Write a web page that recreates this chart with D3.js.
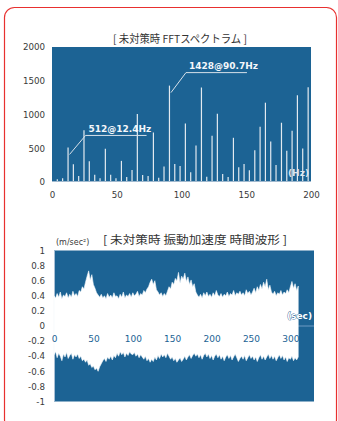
<!DOCTYPE html>
<html><head><meta charset="utf-8">
<script src="https://cdn.jsdelivr.net/npm/d3@7"></script>
<style>html,body{margin:0;padding:0;background:#fff;} svg{display:block;}</style>
</head><body>
<svg id="c" width="338" height="421"></svg>
<script>
// ---------- FFT spectrum data ----------
const fftFreqs = [4.1, 8.2, 12.4, 16.5, 20.6, 24.7, 28.8, 33.0, 37.1, 41.2, 45.3, 49.4,
  53.6, 57.7, 61.8, 65.9, 70.0, 74.2, 78.3, 82.4, 86.5, 90.7, 94.8, 98.9,
  103.0, 107.1, 111.2, 115.4, 119.5, 123.6, 127.7, 131.8, 136.0, 140.1, 144.2, 148.3,
  152.4, 156.6, 160.7, 164.8, 168.9, 173.0, 177.2, 181.3, 185.4, 189.5, 193.6, 197.8];
const fftValues = [40, 55, 512, 263, 90, 765, 308, 109, 55, 491, 109, 55,
  313, 74, 179, 1007, 104, 89, 735, 64, 228, 1428, 268, 238,
  868, 144, 541, 1400, 79, 685, 1010, 119, 74, 655, 218, 268,
  174, 471, 819, 1175, 600, 253, 878, 462, 759, 1285, 496, 1405];
const fftYTicks = [0, 500, 1000, 1500, 2000];
const fftXTicks = [0, 50, 100, 150, 200];
const peakFreqs = [12.4, 90.7];
const peakValues = [512, 1428];
const peakLabels = ["512@12.4Hz", "1428@90.7Hz"];
const fftTitle = "[ 未対策時 FFTスペクトラム ]";
const fftUnit = "(Hz)";

// ---------- Time waveform data (envelope every 2 s) ----------
const waveStep = 2;
const waveUpper = [
  0.40,0.37,0.43,0.38,0.45,0.36,0.41,0.39,0.44,0.37,
  0.42,0.38,0.46,0.40,0.43,0.39,0.47,0.45,0.52,0.49,
  0.58,0.66,0.73,0.61,0.68,0.55,0.50,0.44,0.41,0.38,
  0.42,0.37,0.40,0.36,0.43,0.38,0.41,0.37,0.44,0.39,
  0.40,0.36,0.42,0.38,0.45,0.37,0.41,0.39,0.43,0.38,
  0.44,0.40,0.42,0.46,0.39,0.43,0.41,0.47,0.44,0.49,
  0.52,0.58,0.62,0.55,0.60,0.48,0.45,0.41,0.44,0.39,
  0.43,0.40,0.46,0.52,0.49,0.58,0.55,0.63,0.60,0.71,
  0.57,0.66,0.62,0.70,0.59,0.65,0.55,0.61,0.52,0.56,
  0.45,0.41,0.38,0.42,0.37,0.44,0.40,0.45,0.39,0.42,
  0.38,0.44,0.40,0.47,0.41,0.39,0.43,0.38,0.42,0.40,
  0.45,0.39,0.43,0.41,0.47,0.40,0.44,0.42,0.46,0.41,
  0.44,0.40,0.48,0.43,0.46,0.41,0.45,0.50,0.44,0.52,
  0.47,0.55,0.49,0.58,0.52,0.62,0.48,0.54,0.45,0.42,
  0.46,0.40,0.44,0.42,0.47,0.41,0.45,0.43,0.48,0.44,
  0.52,0.59,0.50,0.56,0.47,0.53];
const waveLower = [
  -0.38,-0.34,-0.42,-0.36,-0.40,-0.46,-0.37,-0.41,-0.35,-0.43,
  -0.39,-0.36,-0.44,-0.38,-0.41,-0.37,-0.43,-0.40,-0.46,-0.44,
  -0.48,-0.45,-0.52,-0.50,-0.55,-0.53,-0.58,-0.56,-0.60,-0.54,
  -0.50,-0.46,-0.43,-0.47,-0.41,-0.44,-0.40,-0.45,-0.39,-0.42,
  -0.36,-0.40,-0.34,-0.38,-0.35,-0.41,-0.36,-0.39,-0.34,-0.37,
  -0.38,-0.35,-0.40,-0.37,-0.42,-0.38,-0.41,-0.44,-0.40,-0.46,
  -0.43,-0.48,-0.44,-0.47,-0.41,-0.45,-0.39,-0.43,-0.37,-0.41,
  -0.38,-0.42,-0.36,-0.40,-0.44,-0.41,-0.46,-0.43,-0.48,-0.45,
  -0.42,-0.47,-0.44,-0.40,-0.45,-0.41,-0.38,-0.43,-0.39,-0.36,
  -0.40,-0.37,-0.42,-0.38,-0.44,-0.39,-0.36,-0.41,-0.37,-0.43,
  -0.39,-0.45,-0.40,-0.37,-0.42,-0.38,-0.44,-0.40,-0.46,-0.41,
  -0.38,-0.43,-0.39,-0.45,-0.41,-0.37,-0.42,-0.47,-0.43,-0.40,
  -0.44,-0.39,-0.46,-0.42,-0.38,-0.43,-0.40,-0.45,-0.41,-0.47,
  -0.42,-0.38,-0.44,-0.40,-0.45,-0.41,-0.37,-0.43,-0.39,-0.44,
  -0.40,-0.46,-0.42,-0.38,-0.43,-0.39,-0.45,-0.41,-0.47,-0.42,
  -0.44,-0.40,-0.46,-0.42,-0.45,-0.41];
const waveYTicks = [1, 0.8, 0.6, 0.4, 0.2, 0, -0.2, -0.4, -0.6, -0.8, -1];
const waveXTicks = [0, 50, 100, 150, 200, 250, 300];
const waveTitle = "[ 未対策時 振動加速度 時間波形 ]";
const waveYUnit = "(m/sec²)";
const waveXUnit = "(sec)";

// ---------- styles ----------
const BG = "#1c6394";
const TXT = "#3a3a3a";
const FONT = "'DejaVu Sans', Verdana, sans-serif";
const CJK = "'Noto Sans CJK JP', 'Noto Sans', sans-serif";

const svg = d3.select("#c");

// red rounded frame
svg.append("rect").attr("x", 4.5).attr("y", 7.5).attr("width", 332).attr("height", 422)
  .attr("rx", 10).attr("fill", "none").attr("stroke", "#e8302f").attr("stroke-width", 1.2);

// ================= Chart 1: FFT =================
const x1 = d3.scaleLinear().domain([0, 200]).range([52, 311]);
const y1 = d3.scaleLinear().domain([0, 2000]).range([182, 47]);

svg.append("rect").attr("x", x1(0)).attr("y", y1(2000))
  .attr("width", x1(200) - x1(0)).attr("height", y1(0) - y1(2000)).attr("fill", BG);

svg.append("g").selectAll("line").data(fftFreqs).join("line")
  .attr("x1", d => x1(d)).attr("x2", d => x1(d))
  .attr("y1", y1(0)).attr("y2", (d, i) => y1(fftValues[i]))
  .attr("stroke", "#e3eaf0").attr("stroke-width", 1.2);

// faint baseline
svg.append("line").attr("x1", x1(0)).attr("x2", x1(200)).attr("y1", y1(0) - 0.5).attr("y2", y1(0) - 0.5)
  .attr("stroke", "#9fb9cf").attr("stroke-width", 1);

const ax1y = svg.append("g").attr("transform", `translate(${x1(0)},0)`)
  .call(d3.axisLeft(y1).tickValues(fftYTicks).tickSize(0).tickPadding(7).tickFormat(d => String(d)));
const ax1x = svg.append("g").attr("transform", `translate(0,${y1(0)})`)
  .call(d3.axisBottom(x1).tickValues(fftXTicks).tickSize(0).tickPadding(10).tickFormat(d => String(d)));
[ax1y, ax1x].forEach(g => {
  g.select(".domain").remove();
  g.selectAll("text").attr("fill", TXT).style("font-family", FONT).style("font-size", "8.7px");
});

svg.append("text").attr("x", 180).attr("y", 42.5).attr("text-anchor", "middle")
  .attr("textLength", 134).attr("lengthAdjust", "spacingAndGlyphs")
  .style("font-family", CJK).style("font-size", "11px").attr("fill", "#333").text(fftTitle);

svg.append("text").attr("x", x1(200) - 2).attr("y", 176).attr("text-anchor", "end")
  .style("font-family", FONT).style("font-size", "9px").style("font-weight", "bold")
  .attr("fill", "#dfe6ee").text(fftUnit);

// peak annotations
const annOffsets = [{lx: 16, ly: -19, tw: 61}, {lx: 15, ly: -20, tw: 61}];
peakFreqs.forEach((f, i) => {
  const px = x1(f) + 1.5, py = y1(peakValues[i]) + 7;
  const o = annOffsets[i];
  const kx = px + o.lx, ky = py + o.ly;
  svg.append("polyline")
    .attr("points", `${px},${py} ${kx},${ky} ${kx + o.tw},${ky}`)
    .attr("fill", "none").attr("stroke", "#d7e1ea").attr("stroke-width", 1);
  svg.append("text").attr("x", kx + 3).attr("y", ky - 3.5)
    .style("font-family", FONT).style("font-size", "9px").style("font-weight", "bold")
    .attr("fill", "#f4f7fa").text(peakLabels[i]);
});

// ================= Chart 2: waveform =================
const x2 = d3.scaleLinear().domain([0, 330]).range([54, 314]);
const y2 = d3.scaleLinear().domain([-1, 1]).range([401.5, 250.5]);

svg.append("rect").attr("x", x2(0)).attr("y", y2(1))
  .attr("width", x2(330) - x2(0)).attr("height", y2(-1) - y2(1)).attr("fill", BG);

// zero line
svg.append("line").attr("x1", x2(0)).attr("x2", x2(330)).attr("y1", y2(0)).attr("y2", y2(0))
  .attr("stroke", "#6d9bc3").attr("stroke-width", 1);
// y axis line
svg.append("line").attr("x1", x2(0) + 0.5).attr("x2", x2(0) + 0.5).attr("y1", y2(1)).attr("y2", y2(-1))
  .attr("stroke", "#a8c0d6").attr("stroke-width", 1);

const waveArea = d3.area()
  .x((d, i) => x2(i * waveStep))
  .y0((d, i) => y2(waveLower[i]))
  .y1(d => y2(d))
  .curve(d3.curveLinear);
svg.append("path").datum(waveUpper).attr("d", waveArea)
  .attr("fill", "#ffffff").attr("stroke", "#f2f6fa").attr("stroke-width", 0.6);

const ax2y = svg.append("g").attr("transform", `translate(${x2(0)},0)`)
  .call(d3.axisLeft(y2).tickValues(waveYTicks).tickSize(0).tickPadding(9).tickFormat(d => String(d)));
const ax2x = svg.append("g").attr("transform", `translate(0,${y2(0)})`)
  .call(d3.axisBottom(x2).tickValues(waveXTicks).tickSize(0).tickPadding(9.4).tickFormat(d => String(d)));
ax2y.select(".domain").remove();
ax2y.selectAll("text").attr("fill", TXT).style("font-family", FONT).style("font-size", "8.7px");
ax2x.select(".domain").remove();
ax2x.selectAll("text").attr("fill", BG).style("font-family", FONT).style("font-size", "9px");

svg.append("text").attr("x", 195).attr("y", 244).attr("text-anchor", "middle")
  .attr("textLength", 184).attr("lengthAdjust", "spacingAndGlyphs")
  .style("font-family", CJK).style("font-size", "11.5px").attr("fill", "#333").text(waveTitle);

svg.append("text").attr("x", 56).attr("y", 245)
  .style("font-family", FONT).style("font-size", "8px").attr("fill", TXT).text(waveYUnit);

svg.append("text").attr("x", 312).attr("y", 318.5).attr("text-anchor", "end")
  .style("font-family", FONT).style("font-size", "9px").style("font-weight", "bold")
  .attr("fill", "#ffffff").attr("stroke", BG).attr("stroke-width", 0.8)
  .style("paint-order", "stroke").text(waveXUnit);
</script>
</body></html>
